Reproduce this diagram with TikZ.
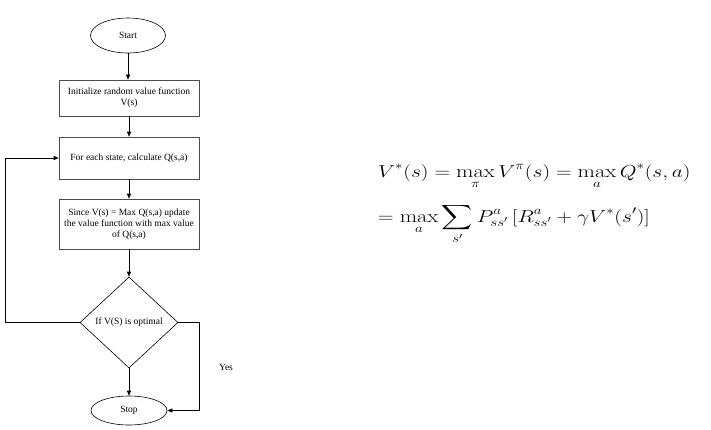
\documentclass[tikz,border=0pt]{standalone}
\usepackage{fontspec}
\usepackage{amsmath}
\usepackage{graphicx}
\newfontfamily\flowfont{Liberation Serif}
\usetikzlibrary{shapes.geometric,arrows.meta}
\tikzset{
  box/.style={draw=black!70, line width=0.6pt, minimum width=140pt, align=center, inner sep=2pt, font=\flowfont\fontsize{9.5}{11}\selectfont},
  term/.style={draw=black, line width=0.6pt, ellipse, inner sep=0pt, font=\flowfont\fontsize{9.5}{11}\selectfont},
  dec/.style={draw=black, line width=0.6pt, diamond, inner sep=0pt, font=\flowfont\fontsize{9.5}{11}\selectfont},
  conn/.style={draw=black, line width=0.6pt, -{Triangle[length=5pt,width=4pt]}},
  lbl/.style={font=\flowfont\fontsize{9.5}{11}\selectfont},
  eq/.style={anchor=base west, inner sep=0pt, font=\fontsize{18}{20}\selectfont}
}
\begin{document}
\begin{tikzpicture}[x=1pt,y=-1pt]
\useasboundingbox (0,0) rectangle (711,429);
\node[term, minimum width=75pt, minimum height=35pt] (start) at (128,35.5) {Start};
\node[box, minimum height=36pt] (init) at (129,98) {Initialize random value function\\V(s)};
\node[box, minimum height=42pt] (calc) at (129,158) {For each state, calculate Q(s,a)};
\node[box, minimum height=50pt] (upd) at (129,224) {Since V(s) = Max Q(s,a) update\\the value function with max value\\of Q(s,a)};
\node[dec, minimum width=98pt, minimum height=91pt] (opt) at (129,322.5) {If V(S) is optimal};
\node[term, minimum width=76pt, minimum height=29pt] (stop) at (129,410.5) {Stop};
\coordinate (lt) at (5,322.5);
\coordinate (lb) at (5,158);
\coordinate (rt) at (199,322.5);
\coordinate (rb) at (199,410.5);
\draw[conn] (start.south) -- (start.south |- init.north);
\draw[conn] (init) -- (calc);
\draw[conn] (calc) -- (upd);
\draw[conn] (upd) -- (opt);
\draw[conn] (opt) -- (stop);
\draw[conn] (opt.west) -- (lt) -- (lb) -- (calc.west);
\draw[conn] (opt.east) -- (rt) -- (rb) -- (stop.east);
\node[lbl] (yes) at (226,367) {Yes};
\node[eq] (eq1) at (378,177) {\scalebox{1.25}[1]{$\displaystyle V^*(s) = \max_{\pi} V^{\pi}(s) = \max_{a} Q^*(s,a)$}};
\node[eq] (eq2) at (378,222) {\scalebox{1.25}[1]{$\displaystyle = \max_{a} \sum_{s'} P^{a}_{ss'}\,[R^{a}_{ss'} + \gamma V^*(s')]$}};
\end{tikzpicture}
\end{document}
